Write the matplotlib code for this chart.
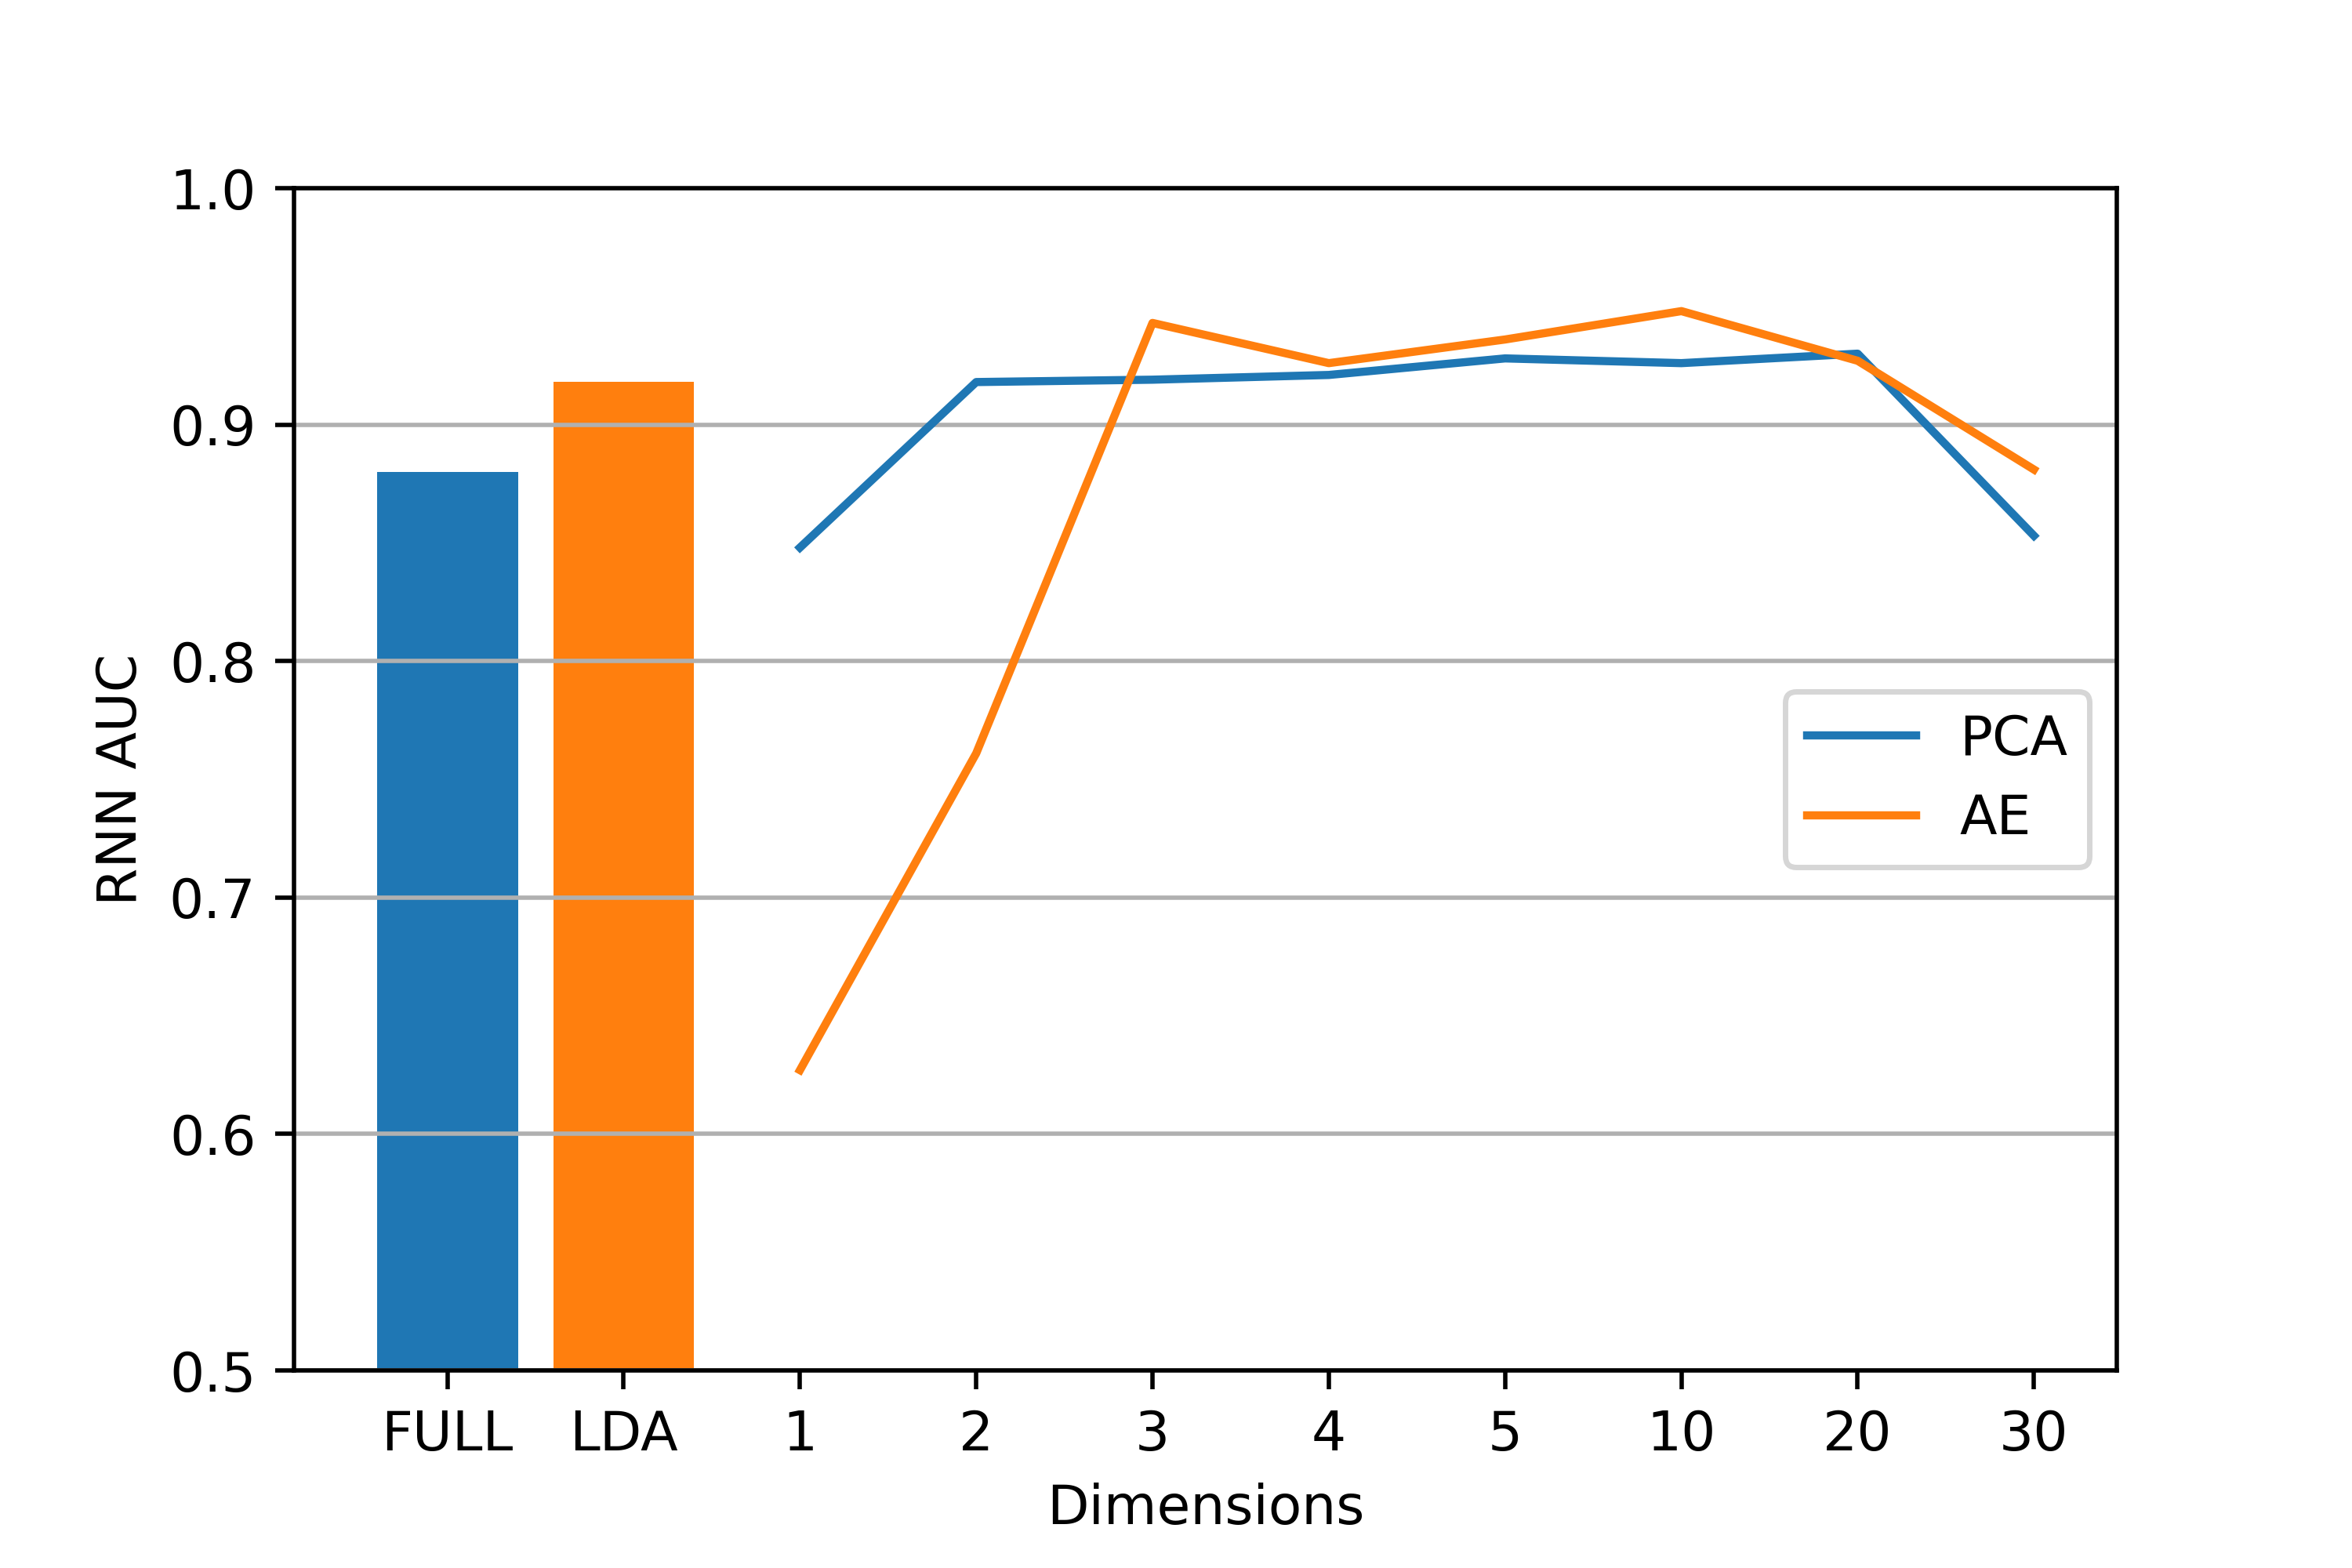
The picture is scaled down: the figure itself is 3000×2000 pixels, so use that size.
import matplotlib
matplotlib.use("Agg")
import matplotlib.pyplot as plt

bar_labels = ["FULL", "LDA"]
bar_values = [0.880, 0.918]
dims = ["1", "2", "3", "4", "5", "10", "20", "30"]
pca = [0.848, 0.918, 0.919, 0.921, 0.928, 0.926, 0.930, 0.853]
ae = [0.627, 0.761, 0.943, 0.926, 0.936, 0.948, 0.927, 0.881]

fig, ax = plt.subplots(figsize=(6, 4), dpi=500)
fig.subplots_adjust(bottom=0.126)
ax.bar([0], [bar_values[0]], color="C0", width=0.8)
ax.bar([1], [bar_values[1]], color="C1", width=0.8)
xs = list(range(2, 2 + len(dims)))
ax.plot(xs, pca, color="C0", label="PCA")
ax.plot(xs, ae, color="C1", label="AE")
ax.set_xticks(list(range(len(bar_labels) + len(dims))))
ax.set_xticklabels(bar_labels + dims)
ax.set_ylim(0.5, 1.0)
ax.yaxis.grid(True)
ax.set_xlabel("Dimensions")
ax.set_ylabel("RNN AUC")
ax.legend(loc="center right")
fig.savefig("out.png")
